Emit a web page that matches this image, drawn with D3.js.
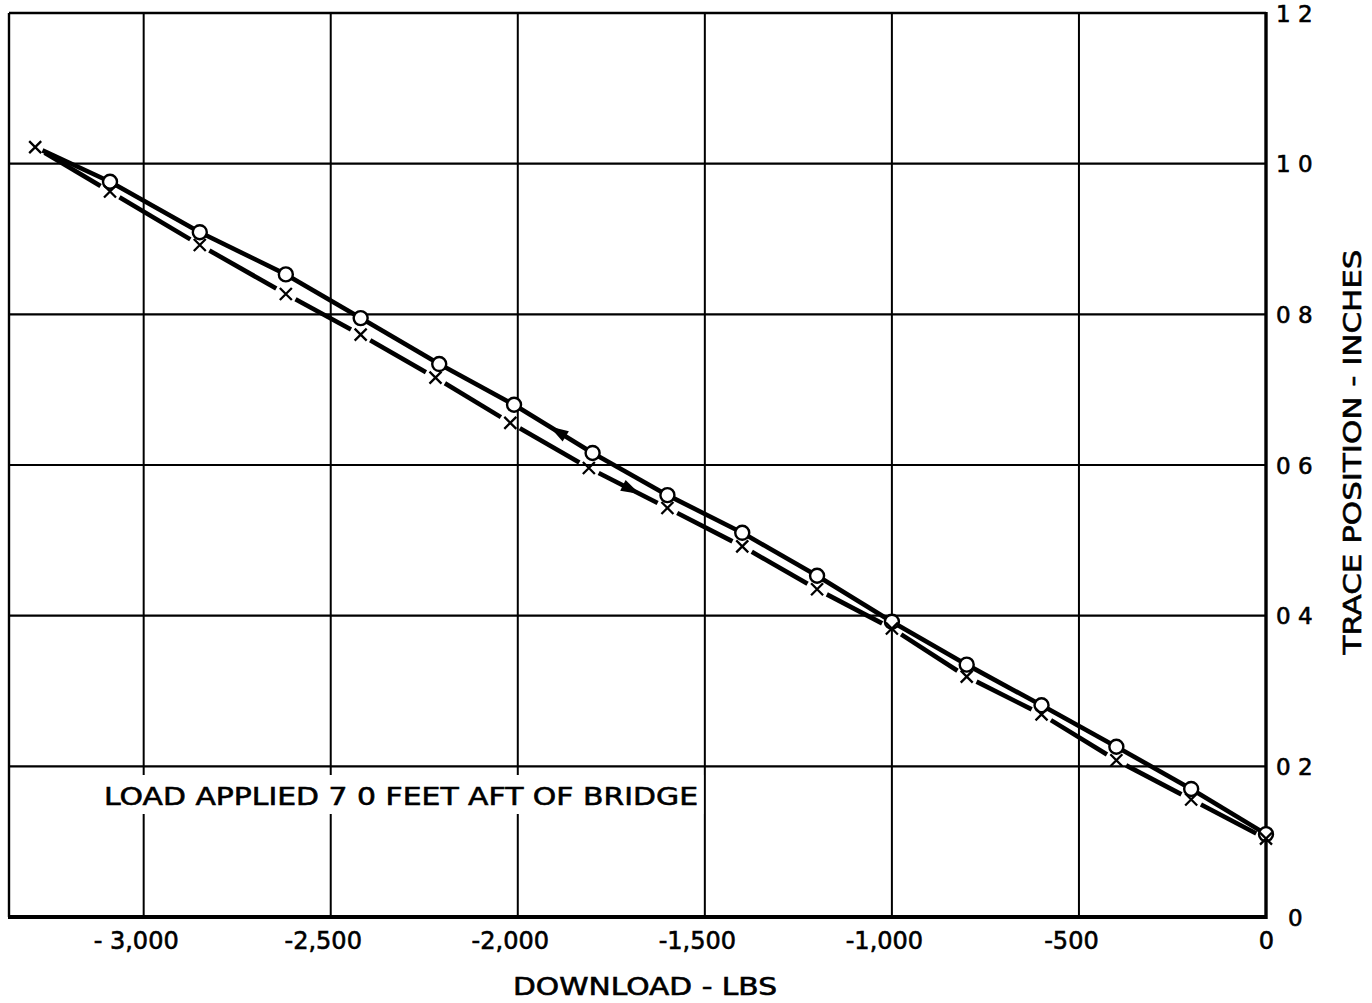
<!DOCTYPE html>
<html>
<head>
<meta charset="utf-8">
<script src="https://cdn.jsdelivr.net/npm/d3@7"></script>
<style>
  html, body { margin: 0; padding: 0; background: #fff; }
  svg { display: block; }
  text { font-family: "DejaVu Sans", sans-serif; fill: #000; stroke: #000; stroke-width: 0.6px; }
</style>
</head>
<body>
<svg id="chart" width="1372" height="1003"></svg>
<script>
// ---- data ----
const xTicks = [-3000, -2500, -2000, -1500, -1000, -500, 0];
const xTickLabels = ["- 3,000", "-2,500", "-2,000", "-1,500", "-1,000", "-500", "0"];
const yTicks = [0, 0.2, 0.4, 0.6, 0.8, 1.0, 1.2];
const yTickLabels = ["0", "0 2", "0 4", "0 6", "0 8", "1 0", "1 2"];

// circle series (upper, solid line)
const circleLoad = [-3090, -2850, -2620, -2420, -2210, -2010, -1800, -1600, -1400, -1200, -1000, -800, -600, -400, -200, 0];
const circlePos  = [0.976, 0.909, 0.853, 0.795, 0.734, 0.680, 0.616, 0.560, 0.510, 0.453, 0.392, 0.335, 0.281, 0.226, 0.170, 0.110];

// cross series (lower, broken line)
const crossLoad = [-3290, -3090, -2850, -2620, -2420, -2220, -2020, -1810, -1600, -1400, -1200, -1000, -800, -600, -400, -200, 0];
const crossPos  = [1.022, 0.963, 0.892, 0.827, 0.773, 0.716, 0.656, 0.596, 0.543, 0.492, 0.435, 0.383, 0.319, 0.269, 0.208, 0.156, 0.104];

// direction arrows (load value along each line)
const arrowUpperLoad = -1890;  // points toward larger download (left)
const arrowLowerLoad = -1700;  // points toward smaller download (right)

const annotation = "LOAD APPLIED 7 0 FEET AFT OF BRIDGE";
const xTitle = "DOWNLOAD - LBS";
const yTitle = "TRACE POSITION - INCHES";

(function () {
const svg = d3.select("#chart");
const pL = 9, pR = 1266, pT = 13, pB = 917;

const x = d3.scaleLinear().domain([-3360, 0]).range([pL, pR]);
const y = d3.scaleLinear().domain([0, 1.2]).range([pB, pT]);

// grid
const g = svg.append("g");
g.selectAll(".vg").data(xTicks.filter(d => d > -3360 && d < 0)).join("line")
  .attr("x1", d => x(d)).attr("x2", d => x(d))
  .attr("y1", pT).attr("y2", pB)
  .attr("stroke", "#000").attr("stroke-width", 2);
g.selectAll(".hg").data(yTicks.filter(d => d > 0 && d < 1.2)).join("line")
  .attr("x1", pL).attr("x2", pR)
  .attr("y1", d => y(d)).attr("y2", d => y(d))
  .attr("stroke", "#000").attr("stroke-width", 2.2);

// frame
g.append("line").attr("x1", pL).attr("x2", pL).attr("y1", pT).attr("y2", pB).attr("stroke", "#000").attr("stroke-width", 2.4);
g.append("line").attr("x1", pL).attr("x2", pR).attr("y1", pT).attr("y2", pT).attr("stroke", "#000").attr("stroke-width", 2.4);
g.append("line").attr("x1", pR).attr("x2", pR).attr("y1", pT - 1).attr("y2", pB + 2).attr("stroke", "#000").attr("stroke-width", 3.4);
g.append("line").attr("x1", pL - 1).attr("x2", pR + 1).attr("y1", pB).attr("y2", pB).attr("stroke", "#000").attr("stroke-width", 3.8);

// annotation with white backing
const annX0 = 100, annX1 = x(-1500) - 1.5;
g.append("rect").attr("x", annX0).attr("y", 775).attr("width", annX1 - annX0).attr("height", 39).attr("fill", "#fff");
g.append("text").attr("x", 104).attr("y", 805)
  .attr("font-size", 25).attr("textLength", 594).attr("lengthAdjust", "spacingAndGlyphs")
  .text(annotation);

// axes (labels only)
const xAxis = d3.axisBottom(x).tickValues(xTicks).tickSize(0).tickPadding(0)
  .tickFormat((d, i) => xTickLabels[i]);
const xa = svg.append("g").attr("transform", `translate(0,${pB + 15})`).call(xAxis);
xa.select(".domain").remove();
xa.selectAll("text").attr("font-size", 24).attr("font-family", "DejaVu Sans, sans-serif")
  .attr("fill", "#000").attr("dy", "0.72em")
  .attr("dx", d => d === 0 ? 0 : -8);

const yAxis = d3.axisRight(y).tickValues(yTicks).tickSize(0).tickPadding(10)
  .tickFormat((d, i) => yTickLabels[i]);
const ya = svg.append("g").attr("transform", `translate(${pR},0)`).call(yAxis);
ya.select(".domain").remove();
ya.selectAll("text").attr("font-size", 23).attr("font-family", "DejaVu Sans, sans-serif")
  .attr("fill", "#000").attr("dy", "0.36em")
  .attr("dx", d => d === 0 ? 12 : 0);

svg.append("text").attr("x", 645).attr("y", 995).attr("text-anchor", "middle")
  .attr("font-size", 24).attr("textLength", 264).attr("lengthAdjust", "spacingAndGlyphs")
  .text(xTitle);
svg.append("text").attr("transform", "translate(1361,452) rotate(-90)").attr("text-anchor", "middle")
  .attr("font-size", 25).attr("textLength", 405).attr("lengthAdjust", "spacingAndGlyphs")
  .text(yTitle);

// ---- series ----
const upperPts = [[crossLoad[0], crossPos[0]]].concat(circleLoad.map((d, i) => [d, circlePos[i]]));
const lowerPts = crossLoad.map((d, i) => [d, crossPos[i]]);

function gappedSegments(pts, gapFn) {
  const segs = [];
  for (let i = 0; i < pts.length - 1; i++) {
    const p0 = [x(pts[i][0]), y(pts[i][1])], p1 = [x(pts[i + 1][0]), y(pts[i + 1][1])];
    const dx = p1[0] - p0[0], dy = p1[1] - p0[1], L = Math.hypot(dx, dy);
    const ux = dx / L, uy = dy / L;
    const g0 = gapFn(i), g1 = gapFn(i + 1);
    segs.push([p0[0] + ux * g0, p0[1] + uy * g0, p1[0] - ux * g1, p1[1] - uy * g1]);
  }
  return segs;
}

const lineG = svg.append("g");
lineG.selectAll(".up").data(gappedSegments(upperPts, i => i === 0 ? 8 : 0)).join("line")
  .attr("x1", d => d[0]).attr("y1", d => d[1]).attr("x2", d => d[2]).attr("y2", d => d[3])
  .attr("stroke", "#000").attr("stroke-width", 4.6).attr("stroke-linecap", "butt");
lineG.selectAll(".lo").data(gappedSegments(lowerPts, i => 11)).join("line")
  .attr("x1", d => d[0]).attr("y1", d => d[1]).attr("x2", d => d[2]).attr("y2", d => d[3])
  .attr("stroke", "#000").attr("stroke-width", 4.6).attr("stroke-linecap", "butt");

// arrows
function arrowAt(loads, poss, load, dir) {
  const i = d3.bisectLeft(loads, load);
  const a = [x(loads[i - 1]), y(poss[i - 1])], b = [x(loads[i]), y(poss[i])];
  const t = (load - loads[i - 1]) / (loads[i] - loads[i - 1]);
  const cx = a[0] + (b[0] - a[0]) * t, cy = a[1] + (b[1] - a[1]) * t;
  let ux = b[0] - a[0], uy = b[1] - a[1];
  const L = Math.hypot(ux, uy); ux = ux / L * dir; uy = uy / L * dir;
  const nx = -uy, ny = ux;
  const tip = [cx + ux * 11, cy + uy * 11];
  const b1 = [cx - ux * 8 + nx * 6, cy - uy * 8 + ny * 6];
  const b2 = [cx - ux * 8 - nx * 6, cy - uy * 8 - ny * 6];
  return `M${tip}L${b1}L${b2}Z`;
}
lineG.append("path").attr("d", arrowAt(circleLoad, circlePos, arrowUpperLoad, -1)).attr("fill", "#000");
lineG.append("path").attr("d", arrowAt(crossLoad, crossPos, arrowLowerLoad, 1)).attr("fill", "#000");

// markers
lineG.selectAll(".c").data(circleLoad.map((d, i) => [d, circlePos[i]])).join("circle")
  .attr("cx", d => x(d[0])).attr("cy", d => y(d[1])).attr("r", 7)
  .attr("fill", "#fff").attr("stroke", "#000").attr("stroke-width", 2.4);
const s = 6;
lineG.selectAll(".x").data(lowerPts).join("path")
  .attr("d", d => { const px = x(d[0]), py = y(d[1]);
    return `M${px - s},${py - s}L${px + s},${py + s}M${px - s},${py + s}L${px + s},${py - s}`; })
  .attr("stroke", "#000").attr("stroke-width", 2.3).attr("fill", "none");
})();
</script>
</body>
</html>
